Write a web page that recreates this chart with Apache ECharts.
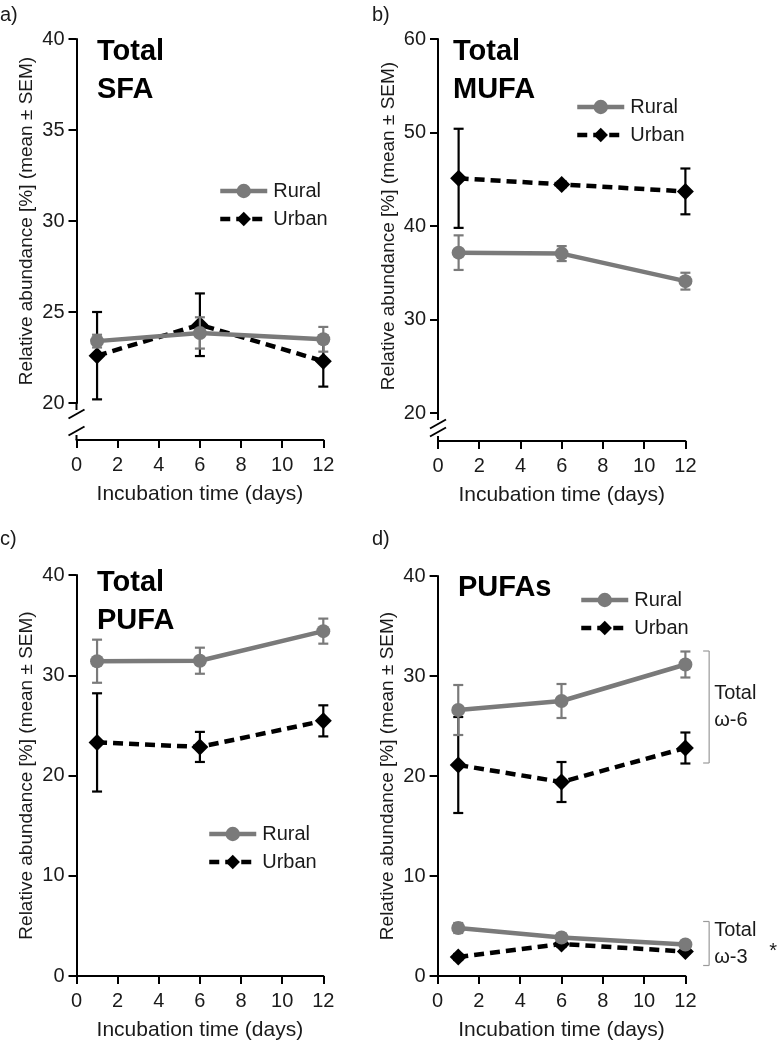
<!DOCTYPE html>
<html>
<head>
<meta charset="utf-8">
<script src="https://cdn.jsdelivr.net/npm/echarts@6/dist/echarts.min.js"></script>
<style>
html,body{margin:0;padding:0;background:#fff;}
#chart{width:780px;height:1043px;}
</style>
</head>
<body>
<div id="chart"></div>
<script>
// ---- data ----
const days = [1, 6, 12];
const xTicks = [0, 2, 4, 6, 8, 10, 12];

const sfaRural = [23.4, 23.85, 23.5];
const sfaRuralSem = [0.35, 0.86, 0.68];
const sfaUrban = [22.6, 24.3, 22.3];
const sfaUrbanSem = [2.4, 1.72, 1.4];

const mufaRural = [37.15, 37.05, 34.1];
const mufaRuralSem = [1.85, 0.8, 0.9];
const mufaUrban = [45.1, 44.45, 43.7];
const mufaUrbanSem = [5.3, 0.3, 2.45];

const pufaRural = [31.4, 31.45, 34.4];
const pufaRuralSem = [2.15, 1.3, 1.25];
const pufaUrban = [23.3, 22.85, 25.45];
const pufaUrbanSem = [4.9, 1.5, 1.55];

const w6Rural = [26.6, 27.5, 31.15];
const w6RuralSem = [2.5, 1.7, 1.3];
const w6Urban = [21.1, 19.4, 22.8];
const w6UrbanSem = [4.8, 2.0, 1.55];

const w3Rural = [4.8, 3.85, 3.15];
const w3RuralSem = [0.5, 0.4, 0.2];
const w3Urban = [1.9, 3.2, 2.45];
const w3UrbanSem = [0.3, 0.3, 0.2];

const bracketX = 13.15;
const bracketTop = [32.5, 5.45];
const bracketBottom = [21.3, 1.05];
const bracketLabels = ['Total\nω-6', 'Total\nω-3'];
const bracketMarks = ['', '*'];

const panelLetters = ['a)', 'b)', 'c)', 'd)'];
const panelTitles = ['Total\nSFA', 'Total\nMUFA', 'Total\nPUFA', 'PUFAs'];
const yRanges = [[20, 40, 5], [20, 60, 10], [0, 40, 10], [0, 40, 10]];
const xName = 'Incubation time (days)';
const yName = 'Relative abundance [%] (mean ± SEM)';

// ---- style ----
const FONT = '"Liberation Sans", Arial, Helvetica, sans-serif';
const TXT = '#1a1a1a';
const GRAY = '#7a7a7a';
const BLACK = '#000000';

const grids = [
  {left: 76.5, top: 39, width: 246.8, height: 364},
  {left: 438, top: 39, width: 247.4, height: 374},
  {left: 76.5, top: 575, width: 246.8, height: 401},
  {left: 437.6, top: 576, width: 247.8, height: 400}
];
const xOffsets = [37, 28, 0, 0];
const legendPos = [[218, 181], [575, 97], [207, 824], [579, 590]];
const titlePos = [[97, 33], [453, 33], [97, 564], [458, 569]];
const letterPos = [[0, 5], [372, 5], [0, 529], [372, 529]];

function zip(xs, ys, es) { return xs.map((x, i) => es ? [x, ys[i], es[i]] : [x, ys[i]]); }

function errRender(color) {
  return function (params, api) {
    const x = api.value(0), y = api.value(1), e = api.value(2);
    const p1 = api.coord([x, y + e]);
    const p2 = api.coord([x, y - e]);
    const w = 5;
    const st = {stroke: color, lineWidth: 2.2};
    return {type: 'group', children: [
      {type: 'line', shape: {x1: p1[0], y1: p1[1], x2: p2[0], y2: p2[1]}, style: st},
      {type: 'line', shape: {x1: p1[0] - w, y1: p1[1], x2: p1[0] + w, y2: p1[1]}, style: st},
      {type: 'line', shape: {x1: p2[0] - w, y1: p2[1], x2: p2[0] + w, y2: p2[1]}, style: st}
    ]};
  };
}

function lineSeries(name, idx, ys, isRural) {
  return {
    type: 'line', name: name, xAxisIndex: idx, yAxisIndex: idx,
    data: zip(days, ys),
    symbol: isRural ? 'circle' : 'diamond',
    symbolSize: isRural ? 14 : 17,
    showSymbol: true,
    itemStyle: {color: isRural ? GRAY : BLACK},
    lineStyle: {color: isRural ? GRAY : BLACK, width: 4.5, type: isRural ? 'solid' : [10, 6]},
    z: isRural ? 4 : 3,
    emphasis: {disabled: true},
    animation: false
  };
}
function errSeries(idx, ys, es, isRural) {
  return {
    type: 'custom', xAxisIndex: idx, yAxisIndex: idx,
    data: zip(days, ys, es),
    encode: {x: 0, y: 1},
    renderItem: errRender(isRural ? GRAY : BLACK),
    z: isRural ? 4 : 3,
    silent: true, animation: false
  };
}

const series = [
  errSeries(0, sfaUrban, sfaUrbanSem, false), lineSeries('Urban', 0, sfaUrban, false),
  errSeries(0, sfaRural, sfaRuralSem, true), lineSeries('Rural', 0, sfaRural, true),
  errSeries(1, mufaUrban, mufaUrbanSem, false), lineSeries('Urban', 1, mufaUrban, false),
  errSeries(1, mufaRural, mufaRuralSem, true), lineSeries('Rural', 1, mufaRural, true),
  errSeries(2, pufaUrban, pufaUrbanSem, false), lineSeries('Urban', 2, pufaUrban, false),
  errSeries(2, pufaRural, pufaRuralSem, true), lineSeries('Rural', 2, pufaRural, true),
  errSeries(3, w6Urban, w6UrbanSem, false), lineSeries('Urban', 3, w6Urban, false),
  errSeries(3, w6Rural, w6RuralSem, true), lineSeries('Rural', 3, w6Rural, true),
  errSeries(3, w3Urban, w3UrbanSem, false), lineSeries('Urban', 3, w3Urban, false),
  errSeries(3, w3Rural, w3RuralSem, true), lineSeries('Rural', 3, w3Rural, true),
  {
    type: 'custom', xAxisIndex: 3, yAxisIndex: 3, silent: true, animation: false, clip: false,
    data: bracketTop.map((t, i) => [bracketX, t, bracketBottom[i]]),
    encode: {x: 0, y: 1},
    renderItem: function (params, api) {
      const i = params.dataIndex;
      const pt = api.coord([api.value(0), api.value(1)]);
      const pb = api.coord([api.value(0), api.value(2)]);
      const st = {stroke: '#9a9a9a', lineWidth: 1.2};
      const mid = (pt[1] + pb[1]) / 2;
      const ch = [
        {type: 'line', shape: {x1: pt[0], y1: pt[1], x2: pb[0], y2: pb[1]}, style: st},
        {type: 'line', shape: {x1: pt[0] - 6, y1: pt[1], x2: pt[0], y2: pt[1]}, style: st},
        {type: 'line', shape: {x1: pb[0] - 6, y1: pb[1], x2: pb[0], y2: pb[1]}, style: st},
        {type: 'text', style: {text: bracketLabels[i], x: pt[0] + 5, y: mid, align: 'left', verticalAlign: 'middle',
          font: '20px ' + FONT, fill: TXT, lineHeight: 27}}
      ];
      if (bracketMarks[i]) {
        ch.push({type: 'text', style: {text: bracketMarks[i], x: pt[0] + 64, y: mid + 8, align: 'center', verticalAlign: 'middle',
          font: '20px ' + FONT, fill: TXT}});
      }
      return {type: 'group', children: ch};
    }
  }
];

const option = {
  animation: false,
  backgroundColor: '#fff',
  textStyle: {fontFamily: FONT},
  title: panelLetters.map((t, i) => ({
    text: t, left: letterPos[i][0], top: letterPos[i][1], padding: 0,
    textStyle: {fontFamily: FONT, fontSize: 20, fontWeight: 'normal', color: TXT}
  })).concat(panelTitles.map((t, i) => ({
    text: t, left: titlePos[i][0], top: titlePos[i][1], padding: 0,
    textStyle: {fontFamily: FONT, fontSize: 29, fontWeight: 'bold', color: '#000', lineHeight: 38}
  }))),
  legend: legendPos.map((p, i) => ({
    data: ['Rural', 'Urban'], orient: 'vertical', left: p[0], top: p[1],
    itemWidth: 47, itemHeight: 18, itemGap: 8, padding: 0,
    selectedMode: false,
    lineStyle: {width: 4.5},
    textStyle: {fontFamily: FONT, fontSize: 20, color: TXT, padding: [0, 0, 0, 1]}
  })),
  grid: grids.map(g => Object.assign({containLabel: false, outerBoundsMode: 'none'}, g)),
  xAxis: grids.map((g, i) => ({
    type: 'value', gridIndex: i, min: 0, max: 12, interval: 2, offset: xOffsets[i],
    name: xName, nameLocation: 'middle', nameGap: 44,
    nameTextStyle: {fontFamily: FONT, fontSize: 21, color: TXT},
    axisLine: {show: true, onZero: false, lineStyle: {color: '#000', width: 2}},
    axisTick: {show: true, length: 8, lineStyle: {color: '#000', width: 2}},
    axisLabel: {fontFamily: FONT, fontSize: 20, color: TXT, margin: 15},
    splitLine: {show: false}
  })),
  yAxis: grids.map((g, i) => ({
    type: 'value', gridIndex: i, min: yRanges[i][0], max: yRanges[i][1], interval: yRanges[i][2],
    name: yName, nameLocation: 'middle', nameGap: 40,
    nameTextStyle: {fontFamily: FONT, fontSize: 19, color: TXT},
    axisLine: {show: true, lineStyle: {color: '#000', width: 2}},
    axisTick: {show: true, length: 8, lineStyle: {color: '#000', width: 2}},
    axisLabel: {fontFamily: FONT, fontSize: 20, color: TXT, margin: 12},
    splitLine: {show: false}
  })),
  series: series
};

const chart = echarts.init(document.getElementById('chart'), null, {renderer: 'canvas'});
chart.setOption(option);

// axis break decorations for panels a and b
const gfx = [];
[0, 1].forEach(i => {
  const p = chart.convertToPixel({gridIndex: i}, [0, yRanges[i][0]]);
  const x = p[0], y = p[1];
  const yx = y + xOffsets[i];
  const s1 = y + 11;
  const s2 = yx - 9;
  const st = {stroke: '#000', lineWidth: 2};
  gfx.push({type: 'line', shape: {x1: x, y1: y, x2: x, y2: s1 - 4}, style: st, silent: true});
  gfx.push({type: 'line', shape: {x1: x - 8, y1: s1 + 4.5, x2: x + 8, y2: s1 - 4.5}, style: st, silent: true});
  gfx.push({type: 'line', shape: {x1: x - 8, y1: s2 + 4.5, x2: x + 8, y2: s2 - 4.5}, style: st, silent: true});
  gfx.push({type: 'line', shape: {x1: x, y1: s2 + 4, x2: x, y2: yx}, style: st, silent: true});
});
chart.setOption({graphic: gfx});
</script>
</body>
</html>
